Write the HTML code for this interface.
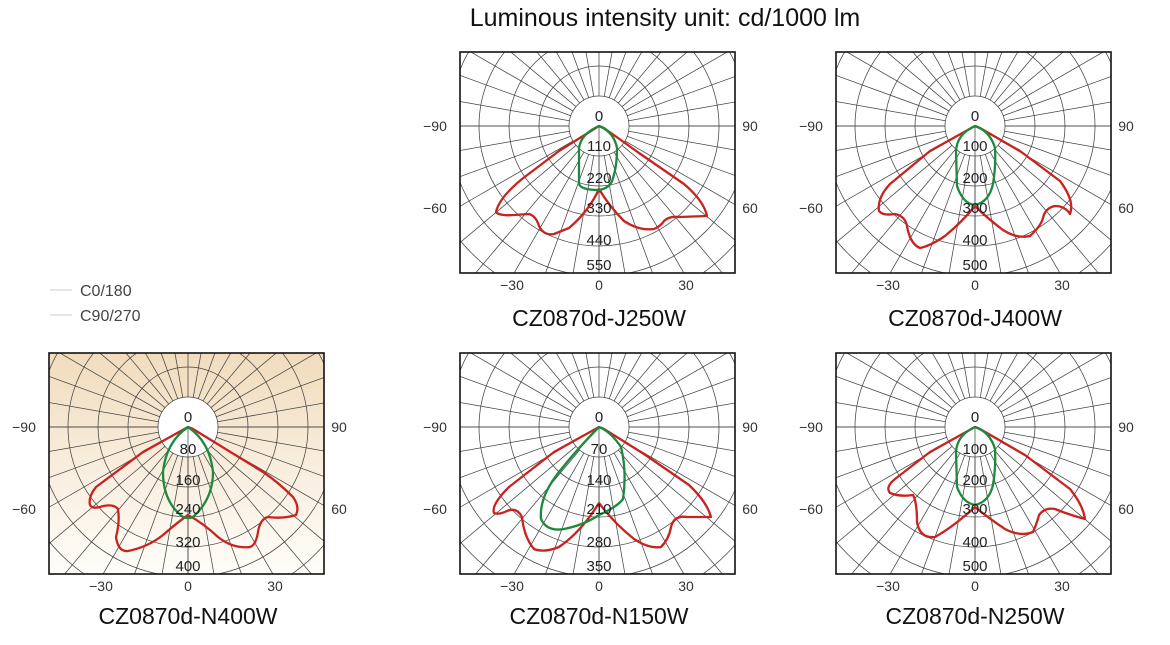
<!DOCTYPE html>
<html><head><meta charset="utf-8"><style>
html,body{margin:0;padding:0;background:#fff;overflow:hidden;width:1170px;height:645px}
svg{display:block}
text{font-family:"Liberation Sans",sans-serif;fill:#222}
.t{font-size:15px;text-anchor:middle}
.ax{font-size:14px;fill:#333}
.ttl{font-size:23px;text-anchor:middle;fill:#111}
.r{fill:none;stroke:#c8231f;stroke-width:2.3;stroke-linejoin:round}
.g{fill:none;stroke:#1b8a3c;stroke-width:2.3;stroke-linejoin:round}
</style></head><body>
<svg width="1170" height="645" viewBox="0 0 1170 645" xmlns="http://www.w3.org/2000/svg">
<defs>
<clipPath id="cp"><rect x="-139" y="-74" width="275" height="221"/></clipPath>
<linearGradient id="bg" x1="0" y1="0" x2="0" y2="1">
<stop offset="0" stop-color="#f1dcbd"/><stop offset="0.6" stop-color="#faf0e2"/><stop offset="1" stop-color="#fffdf9"/></linearGradient>
<g id="grid">
<g clip-path="url(#cp)" stroke="#444" stroke-width="0.75" fill="none">
<circle r="60"/><circle r="90"/><circle r="120"/><circle r="150"/><circle r="180"/><circle r="210"/><circle r="240"/>
<g id="rays">
<line x1="30" y1="0" x2="330" y2="0"/>
<line x1="30" y1="0" x2="330" y2="0" transform="rotate(10)"/><line x1="30" y1="0" x2="330" y2="0" transform="rotate(20)"/><line x1="30" y1="0" x2="330" y2="0" transform="rotate(30)"/><line x1="30" y1="0" x2="330" y2="0" transform="rotate(40)"/><line x1="30" y1="0" x2="330" y2="0" transform="rotate(50)"/><line x1="30" y1="0" x2="330" y2="0" transform="rotate(60)"/><line x1="30" y1="0" x2="330" y2="0" transform="rotate(70)"/><line x1="30" y1="0" x2="330" y2="0" transform="rotate(80)"/><line x1="30" y1="0" x2="330" y2="0" transform="rotate(90)"/><line x1="30" y1="0" x2="330" y2="0" transform="rotate(100)"/><line x1="30" y1="0" x2="330" y2="0" transform="rotate(110)"/><line x1="30" y1="0" x2="330" y2="0" transform="rotate(120)"/><line x1="30" y1="0" x2="330" y2="0" transform="rotate(130)"/><line x1="30" y1="0" x2="330" y2="0" transform="rotate(140)"/><line x1="30" y1="0" x2="330" y2="0" transform="rotate(150)"/><line x1="30" y1="0" x2="330" y2="0" transform="rotate(160)"/><line x1="30" y1="0" x2="330" y2="0" transform="rotate(170)"/>
</g>
<use href="#rays" transform="rotate(180)"/>
<circle r="30" fill="#fff" stroke="#444"/>
<line x1="0" y1="0" x2="0" y2="160"/>
<line x1="-30" y1="0" x2="-140" y2="0"/><line x1="30" y1="0" x2="140" y2="0"/>
</g>
<rect x="-139" y="-74" width="275" height="221" fill="none" stroke="#111" stroke-width="1.6"/>
<text class="ax" x="-164" y="5" text-anchor="middle">−90</text>
<text class="ax" x="151" y="5" text-anchor="middle">90</text>
<text class="ax" x="-164" y="87" text-anchor="middle">−60</text>
<text class="ax" x="151" y="87" text-anchor="middle">60</text>
<text class="ax" x="-87" y="164" text-anchor="middle">−30</text>
<text class="ax" x="0" y="164" text-anchor="middle">0</text>
<text class="ax" x="87" y="164" text-anchor="middle">30</text>
<text class="t" x="0" y="-5">0</text>
</g>
</defs>

<text x="665" y="26" style="font-size:25px;text-anchor:middle;fill:#111">Luminous intensity unit: cd/1000 lm</text>

<line x1="50" y1="290" x2="72" y2="290" stroke="#ccc"/>
<line x1="50" y1="315" x2="72" y2="315" stroke="#ccc"/>
<text x="80" y="296" style="font-size:16px;fill:#444">C0/180</text>
<text x="80" y="321" style="font-size:16px;fill:#444">C90/270</text>

<g transform="translate(599,126)">
<use href="#grid"/>
<path class="r" d="M0,0 L-40,25 L-77,53 Q-100,72 -103,86 Q-100,90 -85,89 L-70,88 Q-63,90 -60,100 Q-55,110 -45,108 L-30,102 Q-10,85 0,63 Q10,80 25,95 Q40,105 55,103 Q62,100 65,95 Q70,90 80,91 L108,90 Q105,75 85,58 L40,27 L5,2 Z"/>
<path class="g" d="M0,0 Q-18,8 -20,22 L-20,58 Q-18,64 0,64 Q12,62 14,52 Q18,40 18,22 Q15,6 0,0 Z"/>
<text class="t" x="0" y="25">110</text><text class="t" x="0" y="57">220</text><text class="t" x="0" y="87">330</text><text class="t" x="0" y="119">440</text><text class="t" x="0" y="144">550</text>
<text class="ttl" x="0" y="200">CZ0870d-J250W</text>
</g>

<g transform="translate(975,126)">
<use href="#grid"/>
<path class="r" d="M0,0 L-45,25 L-85,58 Q-98,72 -96,85 Q-92,90 -80,88 Q-70,90 -68,100 Q-65,118 -55,122 Q-45,120 -30,110 Q-12,95 0,80 Q12,92 28,104 Q42,113 55,110 Q66,100 68,92 Q70,82 80,80 Q90,80 95,88 Q100,75 85,55 L45,25 L5,2 Z"/>
<path class="g" d="M0,0 Q-18,8 -19,25 L-18,60 Q-12,78 0,79 Q14,76 18,58 Q21,40 20,22 Q15,5 0,0 Z"/>
<text class="t" x="0" y="25">100</text><text class="t" x="0" y="57">200</text><text class="t" x="0" y="87">300</text><text class="t" x="0" y="119">400</text><text class="t" x="0" y="144">500</text>
<text class="ttl" x="0" y="200">CZ0870d-J400W</text>
</g>

<g transform="translate(188,427)">
<rect x="-139" y="-74" width="275" height="221" fill="url(#bg)"/>
<use href="#grid"/>
<path class="r" d="M0,0 L-45,25 L-92,60 Q-100,70 -98,78 Q-96,82 -88,80 Q-75,76 -70,82 Q-68,95 -72,110 Q-70,125 -60,124 Q-40,120 -25,108 Q-10,95 0,88 Q15,96 30,110 Q45,122 62,120 Q68,118 70,105 Q72,92 80,90 Q95,92 108,88 Q112,80 105,70 Q90,55 75,45 L5,2 Z"/>
<path class="g" d="M0,0 Q-22,15 -25,45 Q-25,75 -5,90 Q0,92 5,90 Q25,72 25,45 Q22,15 0,0 Z"/>
<text class="t" x="0" y="27">80</text><text class="t" x="0" y="58">160</text><text class="t" x="0" y="87">240</text><text class="t" x="0" y="120">320</text><text class="t" x="0" y="144">400</text>
<text class="ttl" x="0" y="197">CZ0870d-N400W</text>
</g>

<g transform="translate(599,427)">
<use href="#grid"/>
<path class="r" d="M0,0 L-45,25 L-90,60 Q-108,78 -105,86 Q-100,88 -92,84 Q-82,80 -77,90 Q-75,110 -65,122 Q-55,126 -40,120 Q-18,105 0,76 Q15,96 35,112 Q50,122 62,120 Q70,112 72,100 Q75,88 88,90 L112,90 Q108,75 90,58 L45,27 L5,2 Z"/>
<path class="g" d="M0,0 Q-20,20 -40,45 Q-60,70 -58,92 Q-52,105 -35,102 Q-15,98 0,88 Q18,80 24,72 Q28,45 22,20 Q12,5 0,0 Z"/>
<text class="t" x="0" y="27">70</text><text class="t" x="0" y="58">140</text><text class="t" x="0" y="87">210</text><text class="t" x="0" y="120">280</text><text class="t" x="0" y="144">350</text>
<text class="ttl" x="0" y="197">CZ0870d-N150W</text>
</g>

<g transform="translate(975,427)">
<use href="#grid"/>
<path class="r" d="M0,0 L-45,25 L-80,52 Q-90,60 -85,66 Q-75,70 -62,68 Q-58,75 -58,95 Q-55,112 -40,110 Q-22,100 0,80 Q12,90 30,102 Q45,110 58,105 Q62,96 64,88 Q70,80 80,82 Q95,88 110,92 Q108,78 95,62 L50,28 L5,2 Z"/>
<path class="g" d="M0,0 Q-18,8 -19,25 L-18,60 Q-12,76 0,78 Q14,75 18,58 Q21,40 20,22 Q15,5 0,0 Z"/>
<text class="t" x="0" y="27">100</text><text class="t" x="0" y="58">200</text><text class="t" x="0" y="87">300</text><text class="t" x="0" y="120">400</text><text class="t" x="0" y="144">500</text>
<text class="ttl" x="0" y="197">CZ0870d-N250W</text>
</g>
</svg>
</body></html>
